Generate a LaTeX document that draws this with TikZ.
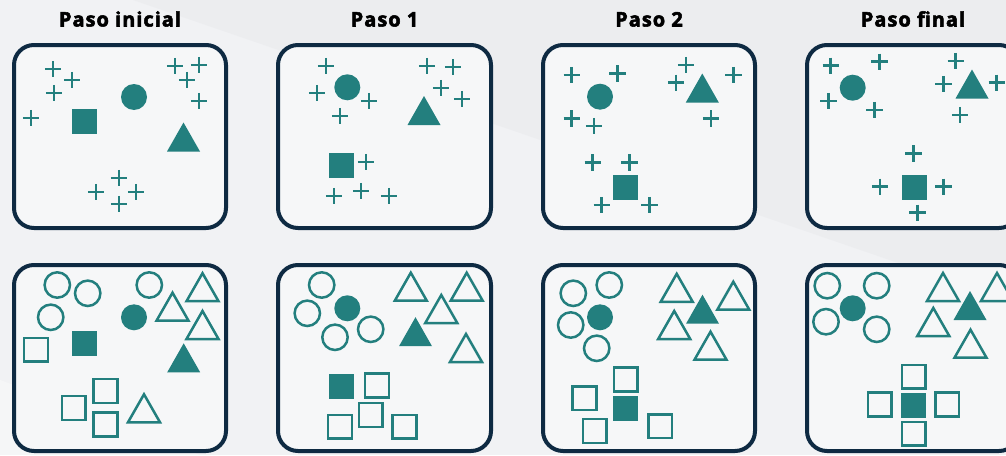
\documentclass[tikz,border=0pt]{standalone}
\usepackage{fontspec}
\setmainfont{Open Sans}
\newfontfamily\titlefont{Open Sans}[BoldFeatures={FakeBold=2.6,LetterSpace=5}]
\definecolor{teal1}{RGB}{35,127,126}
\definecolor{navy}{RGB}{14,42,66}
\definecolor{bgc}{RGB}{241,242,244}
\definecolor{bgd}{RGB}{233,234,237}
\definecolor{boxfill}{RGB}{246,247,248}
\tikzset{
 frame/.style={draw=navy, line width=4, rounded corners=20, fill=boxfill},
 title/.style={font=\titlefont\bfseries\fontsize{20}{22}\selectfont, text=black, anchor=base},
 pl/.pic={\draw[teal1, line width=2.6] (-8.2,0)--(8.2,0) (0,-8.2)--(0,8.2);},
 fc/.pic={\fill[teal1] (0,0) circle[radius=13];},
 oc/.pic={\draw[teal1, line width=2.5] (0,0) circle[radius=12.7];},
 fs/.pic={\fill[teal1] (-12.5,-12.5) rectangle (12.5,12.5);},
 os/.pic={\draw[teal1, line width=2.5] (-11.8,-11.8) rectangle (11.8,11.8);},
 ft/.pic={\fill[teal1] (-16.5,14.5) -- (0,-14.5) -- (16.5,14.5) -- cycle;},
 ot/.pic={\draw[teal1, line width=2.5, line join=miter] (-16,14) -- (0,-14) -- (16,14) -- cycle;}
}
\begin{document}
\begin{tikzpicture}[x=1pt,y=-1pt]
\useasboundingbox (0,0) rectangle (1006,455);
\fill[bgc] (0,0) rectangle (1006,455);
\fill[bgd, opacity=0.6] (133,0) -- (1006,0) -- (1006,300) -- cycle;
\fill[white, opacity=0.35] (0,380) -- (0,455) -- (200,455) -- cycle;
% titles
\node[title] (t1) at (120,26.5) {Paso inicial};
\node[title] (t2) at (384.5,26.5) {Paso 1};
\node[title] (t3) at (649,26.5) {Paso 2};
\node[title] (t4) at (913,26.5) {Paso final};
% frames
\draw[frame] (14,45) rectangle (226,228);
\draw[frame] (278,45) rectangle (491,228);
\draw[frame] (543,45) rectangle (755,228);
\draw[frame] (807,45) rectangle (1019,228);
\draw[frame] (14,265) rectangle (226,451);
\draw[frame] (278,265) rectangle (491,451);
\draw[frame] (543,265) rectangle (755,451);
\draw[frame] (807,265) rectangle (1019,451);
% ---------- top row ----------
% box 1
\foreach \p in {(53,69),(72,80),(54,93),(31,118),(175,66),(199,65),(187,80),(199,101),(119,178),(96,192),(136,192),(119,204)}
  \pic at \p {pl};
\pic at (134,97) {fc};
\pic at (84.5,121.5) {fs};
\pic at (183.5,137) {ft};
% box 2
\foreach \p in {(326,66),(317,93),(369,101),(340,116),(427,66),(453,67),(441,88),(462,99),(366,162),(334,196),(361,191),(389,196)}
  \pic at \p {pl};
\pic at (347.3,87.3) {fc};
\pic at (424,110.5) {ft};
\pic at (341.5,165.5) {fs};
% box 3
\foreach \p in {(571.7,75),(617.3,73.3),(571.7,118.3),(594,126),(686,65),(676,82.7),(733.3,75),(711,118.3),(592.7,162.3),(629.3,162.3),(601.7,205),(649.3,205)}
  \pic at \p {pl};
\pic at (600,96.7) {fc};
\pic at (702.3,88) {ft};
\pic at (625.5,187) {fs};
% box 4
\foreach \p in {(830.7,65.7),(879.3,61.7),(828.3,101),(874.3,110),(955.7,61),(943.3,84),(996.7,82.7),(960,115),(913.3,153.3),(880,186.7),(943.3,186.7),(917.3,212.7)}
  \pic at \p {pl};
\pic at (852.7,87.7) {fc};
\pic at (972,84) {ft};
\pic at (914,187) {fs};
% ---------- bottom row ----------
% box 1
\foreach \p in {(57.3,285),(87.7,293.3),(50.7,317.3),(149.3,285)}
  \pic at \p {oc};
\pic at (134,317.3) {fc};
\foreach \p in {(202.5,287.2),(172.5,306.7),(202.5,325),(144,408.3)}
  \pic at \p {ot};
\pic at (183.7,357.8) {ft};
\foreach \p in {(36,349.7),(105.5,391),(73.7,408),(105.5,424.5)}
  \pic at \p {os};
\pic at (84,343) {fs};
% box 2
\foreach \p in {(321.7,285),(307.3,313.3),(335,337.3),(370.7,329.3)}
  \pic at \p {oc};
\pic at (347.3,308.3) {fc};
\foreach \p in {(410.8,286.7),(466.7,286.7),(441.3,309),(466,348)}
  \pic at \p {ot};
\pic at (415.5,331.7) {ft};
\foreach \p in {(377,385.5),(370.8,415),(340,426.7),(404.5,426.7)}
  \pic at \p {os};
\pic at (341.7,386.7) {fs};
% box 3
\foreach \p in {(573.3,293.3),(609.3,285),(570.7,325),(596.7,348.3)}
  \pic at \p {oc};
\pic at (600,317.3) {fc};
\foreach \p in {(676.7,287.8),(733.3,295.7),(674.2,325),(710.5,345.7)}
  \pic at \p {ot};
\pic at (702.5,309.2) {ft};
\foreach \p in {(625.7,379.5),(584.5,398.2),(594.7,431),(660.3,426.3)}
  \pic at \p {os};
\pic at (625.7,408.3) {fs};
% box 4
\foreach \p in {(827.3,285.7),(876.7,285.7),(826,321.7),(876.7,329.3)}
  \pic at \p {oc};
\pic at (852.7,308.3) {fc};
\foreach \p in {(943,287),(997,287),(933.3,322),(970.5,343.7)}
  \pic at \p {ot};
\pic at (970,305.5) {ft};
\foreach \p in {(913.7,376.7),(879.7,404.5),(947.3,404.5),(913.7,433.7)}
  \pic at \p {os};
\pic at (913.3,405.7) {fs};
\end{tikzpicture}
\end{document}
